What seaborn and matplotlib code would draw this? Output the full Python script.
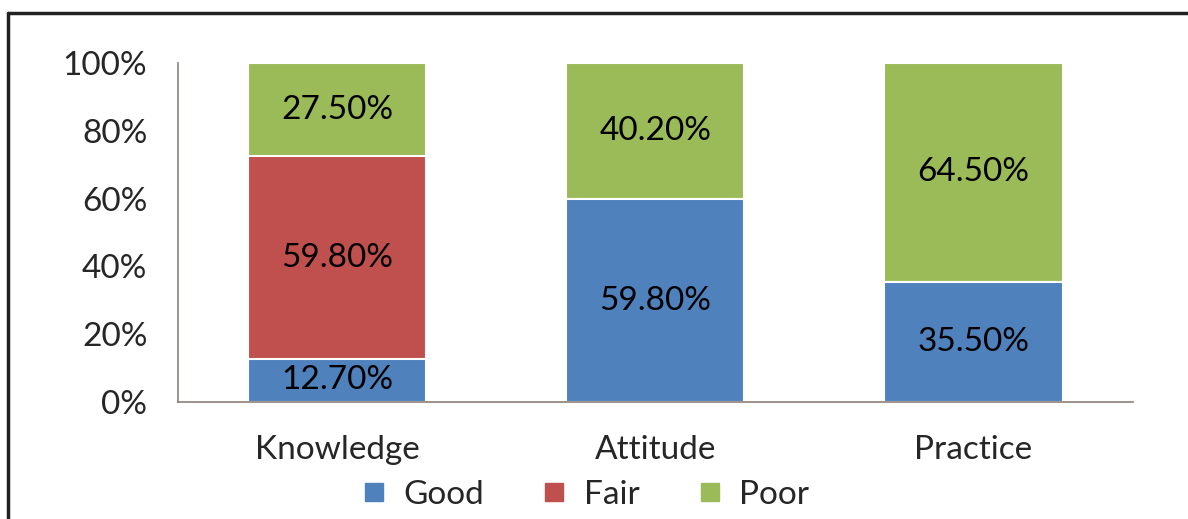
import matplotlib
matplotlib.use("Agg")
import matplotlib.pyplot as plt
import seaborn as sns
import numpy as np
from matplotlib.lines import Line2D
from matplotlib.ticker import PercentFormatter

categories = ["Knowledge", "Attitude", "Practice"]
good = [12.7, 59.8, 35.5]
fair = [59.8, 0.0, 0.0]
poor = [27.5, 40.2, 64.5]
series_names = ["Good", "Fair", "Poor"]
colors = ["#4F81BD", "#C0504D", "#9BBB59"]

sns.set_style("white")
plt.rcParams["font.family"] = ["Lato", "DejaVu Sans"]

fs = 24

fig = plt.figure(figsize=(11.88, 5.19), dpi=100)
ax = fig.add_axes([0.1498, 0.2254, 0.8035, 0.6532])

layers = [good, fair, poor]
cum = np.cumsum(np.array(layers), axis=0)

# draw tallest stack first, smaller ones on top
for i in range(len(layers) - 1, -1, -1):
    sns.barplot(x=categories, y=cum[i], color=colors[i], width=0.56,
                edgecolor="white", linewidth=1.5, ax=ax, saturation=1)

# segment labels
for i, vals in enumerate(layers):
    for j, v in enumerate(vals):
        if v > 0:
            mid = cum[i][j] - v / 2
            ax.text(j, mid, f"{v:.2f}%", ha="center", va="center",
                    fontsize=fs, color="black")

ax.set_ylim(0, 100)
ax.set_xlim(-0.5, 2.5)
ax.yaxis.set_major_formatter(PercentFormatter(decimals=0))
ax.set_yticks([0, 20, 40, 60, 80, 100])
ax.tick_params(axis="both", length=0, labelsize=fs)
ax.tick_params(axis="y", pad=22)
ax.tick_params(axis="x", pad=24)
for side in ["top", "right"]:
    ax.spines[side].set_visible(False)
for side in ["left", "bottom"]:
    ax.spines[side].set_color("#8C7F7A")
    ax.spines[side].set_linewidth(1.2)

handles = [Line2D([], [], marker="s", linestyle="none", markersize=13,
                  markerfacecolor=c, markeredgecolor=c) for c in colors]
fig.legend(handles, series_names, loc="lower center", bbox_to_anchor=(0.491, -0.04),
           ncol=3, frameon=False, fontsize=fs, handlelength=1.0,
           handletextpad=0.38, columnspacing=1.6)

# outer frame lines (left and top)
fig.add_artist(Line2D([8 / 1188, 8 / 1188], [0, 1 - 13 / 519], transform=fig.transFigure,
                      color="#222222", linewidth=2.5))
fig.add_artist(Line2D([8 / 1188, 1], [1 - 13 / 519, 1 - 13 / 519], transform=fig.transFigure,
                      color="#222222", linewidth=2.5))

fig.savefig("out.png", dpi=100)
